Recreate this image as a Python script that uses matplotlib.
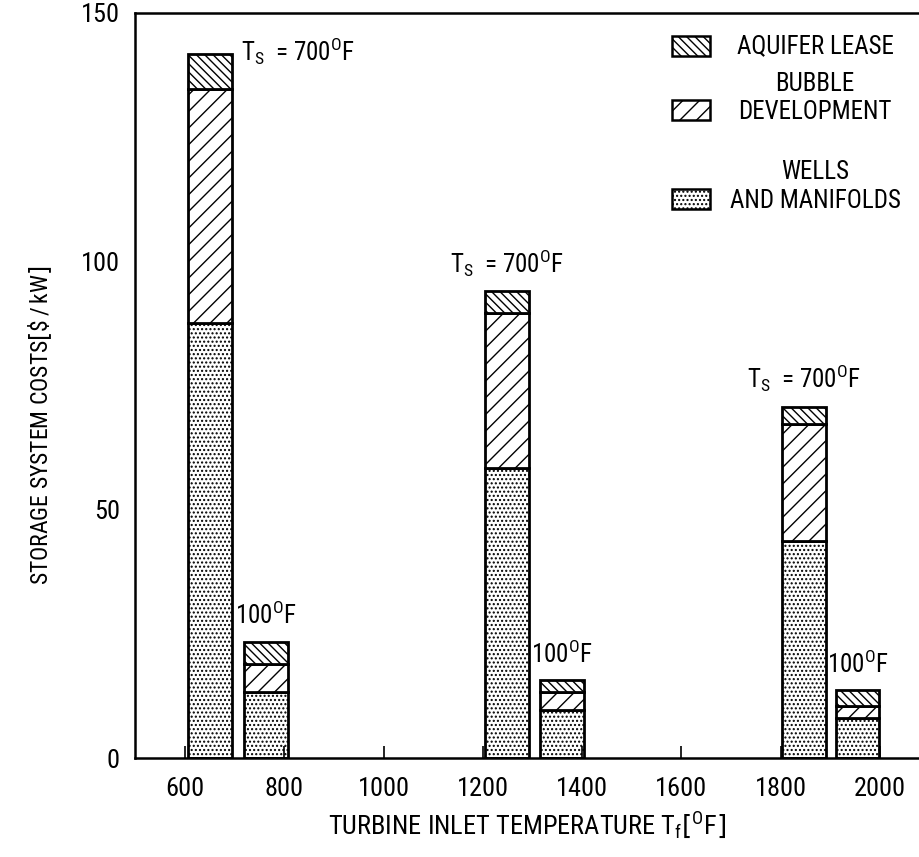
import matplotlib.pyplot as plt
from matplotlib.patches import Rectangle

plt.rcParams['font.family'] = ['Roboto Condensed', 'DejaVu Sans']
plt.rcParams['mathtext.default'] = 'regular'
plt.rcParams['hatch.linewidth'] = 1.0

# bar centres on the turbine inlet temperature axis [F]
bar_x = [650, 763, 1248, 1360, 1847, 1955]
# storage temperature of each bar [F]
storage_temp = ['700', '100', '700', '100', '700', '100']

# cost components [$/kW]
wells = [87.5, 13.3, 58.3, 9.7, 43.6, 8.0]
bubble = [47.2, 5.7, 31.2, 3.5, 23.7, 2.5]
aquifer = [7.0, 4.4, 4.5, 2.5, 3.4, 3.2]

x_ticks = [600, 800, 1000, 1200, 1400, 1600, 1800, 2000]
y_ticks = [0, 50, 100, 150]

components = [
    (['WELLS', 'AND MANIFOLDS'], wells, '....'),
    (['BUBBLE', 'DEVELOPMENT'], bubble, '//'),
    (['AQUIFER LEASE'], aquifer, '\\\\\\\\'),
]

W, H = 919, 857
fig = plt.figure(figsize=(W / 100, H / 100), dpi=100)
ax = fig.add_axes([135 / W, 1 - 758 / H, 1 - 135 / W, (758 - 13) / H])

bottom = [0.0] * len(bar_x)
for name, vals, hatch in components:
    ax.bar(bar_x, vals, width=88, bottom=bottom, color='white',
           edgecolor='black', linewidth=2, hatch=hatch)
    bottom = [b + v for b, v in zip(bottom, vals)]

ax.set_xlim(600 - 50 / 0.4964, 600 + 734 / 0.4964)
ax.set_ylim(0, 150)
ax.spines['right'].set_visible(False)
for s in ['left', 'bottom', 'top']:
    ax.spines[s].set_linewidth(1.8)

ax.set_xticks(x_ticks)
ax.set_yticks(y_ticks)
ax.tick_params(axis='x', direction='in', length=9, width=1.2, pad=14, labelsize=19)
ax.tick_params(axis='y', direction='in', length=0, pad=11, labelsize=19)

# storage temperature labels above each bar
for i, (x, top, ts) in enumerate(zip(bar_x, bottom, storage_temp)):
    if ts == '700':
        label = r'T$_{S}$  = ' + ts + r'$^{O}$F'
    else:
        label = ts + r'$^{O}$F'
    if i == 0:
        ax.text(x + 63, top - 2.5, label, ha='left', va='bottom', fontsize=18)
    else:
        ax.text(x, top + 2.5, label, ha='center', va='bottom', fontsize=18)

ax.set_xlabel(r'TURBINE INLET TEMPERATURE T$_{f}\left[^{O}F\right]$', fontsize=19, labelpad=6)
ax.set_ylabel(r'STORAGE SYSTEM COSTS$\left[\$\,/\,kW\right]$', fontsize=17)
ax.yaxis.set_label_coords(-0.103, 0.447)

# legend drawn as boxes with centred captions (pixel rows from the top)
legend_rows = [(46, [46], components[2]),
               (110, [84, 112], components[1]),
               (199, [172, 201], components[0])]
for box_y, line_y, (lines, vals, hatch) in legend_rows:
    fig.patches.append(Rectangle((672 / W, 1 - (box_y + 10) / H), 38 / W, 20 / H,
                                 transform=fig.transFigure, facecolor='white',
                                 edgecolor='black', linewidth=1.8, hatch=hatch))
    for text, y in zip(lines, line_y):
        fig.text(815 / W, 1 - y / H, text, ha='center', va='center', fontsize=18)

fig.savefig('out.png', dpi=100)
